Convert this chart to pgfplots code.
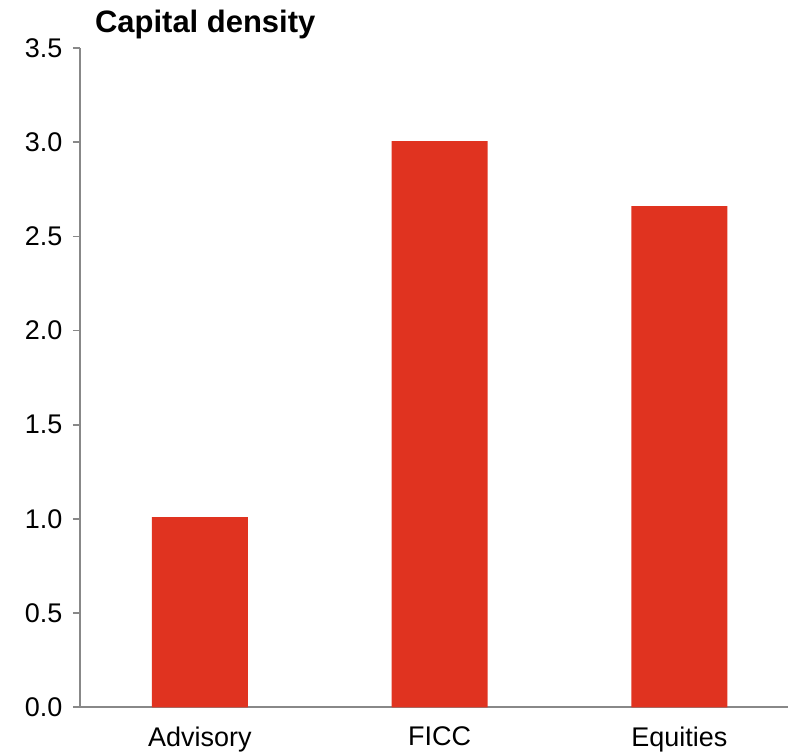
\documentclass[border=0pt]{standalone}
\usepackage{fontspec}
\setmainfont{Liberation Sans}
\usepackage{pgfplots}
\pgfplotsset{compat=1.18}
\definecolor{barred}{RGB}{224,51,32}
\definecolor{axisgray}{RGB}{136,136,136}
\begin{document}
\begin{tikzpicture}
\begin{axis}[
  scale only axis,
  width=709pt, height=660pt,
  xmin=-0.5, xmax=2.454,
  ymin=0, ymax=3.5,
  axis lines*=left,
  axis line style={axisgray, line width=1.6pt},
  ytick={0,0.5,...,3.5},
  /pgf/number format/fixed,
  /pgf/number format/fixed zerofill,
  /pgf/number format/precision=1,
  /pgf/number format/assume math mode=true,
  y tick label style={font=\fontsize{27}{32}\selectfont, xshift=-7pt},
  xtick={0,1,2},
  xticklabels={Advisory,FICC,Equities},
  x tick label style={font=\fontsize{27}{32}\selectfont, yshift=-9pt},
  xtick style={draw=none},
  minor xtick={-0.5,0.5,1.5},
  minor x tick style={axisgray, line width=1.6pt},
  ytick style={axisgray, line width=1.6pt},
  tick align=outside,
  major tick length=7pt,
  minor tick length=7pt,
  title={\fontsize{31}{36}\selectfont\bfseries Capital density},
  title style={at={(0,1)}, anchor=base west, inner sep=0pt, xshift=15pt, yshift=9pt},
  clip=false,
]
\addplot[ybar, bar width=0.4, fill=barred, draw=none] coordinates {(0,1.01) (1,3.005) (2,2.66)};
\end{axis}
\useasboundingbox (-80pt,-45pt) rectangle (709pt,708pt);
\end{tikzpicture}
\end{document}
